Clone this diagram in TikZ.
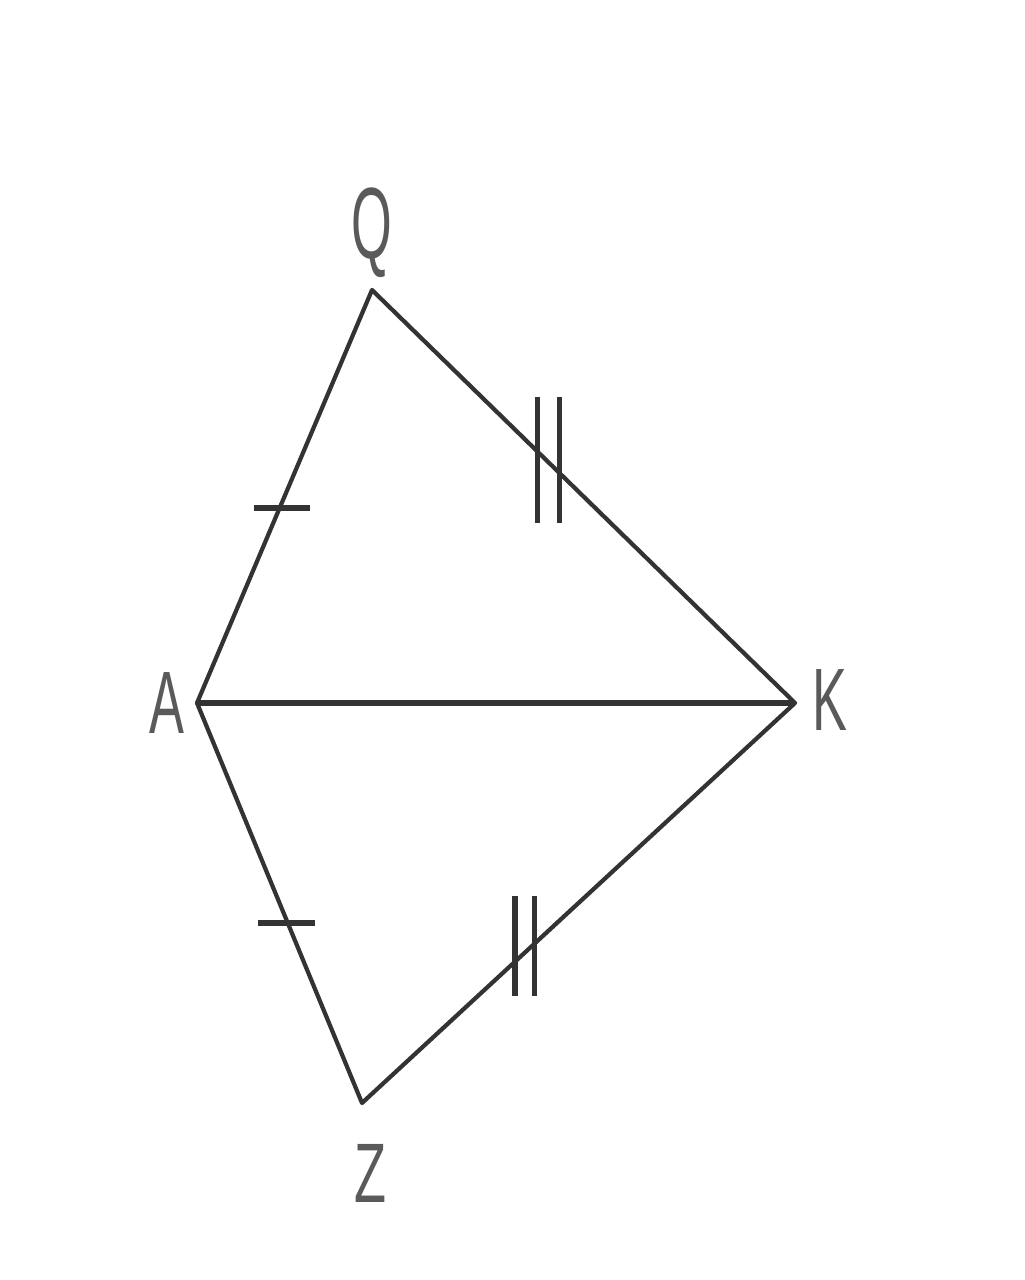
\documentclass[tikz,border=0pt]{standalone}
\usepackage{fontspec}
\setmainfont{Liberation Sans}
\usepackage{xcolor}
\usetikzlibrary{calc}
\definecolor{EdgeGray}{HTML}{333333}
\definecolor{LabelGray}{HTML}{5A5A5A}

\begin{document}
\begin{tikzpicture}[
    x=0.01cm, y=-0.01cm,
    side/.style={draw=EdgeGray, line width=1.2pt, line join=round},
    diag/.style={draw=EdgeGray, line width=1.8pt},
    tick/.style={draw=EdgeGray, line width=1.5pt},
    vlbl/.style={font=\fontsize{24}{24}\selectfont, text=LabelGray, inner sep=0pt}
  ]
    \useasboundingbox (0,0) rectangle (1024,1280);

    % Vertices
    \coordinate (Q) at (372,290);
    \coordinate (A) at (197,703);
    \coordinate (K) at (795,703);
    \coordinate (Z) at (362,1103);

    % Labels
    \node[vlbl] (lQ) at (372,233) {\scalebox{0.62}[1.2]{Q}};
    \node[vlbl] (lA) at (167,703) {\scalebox{0.62}[1.05]{A}};
    \node[vlbl] (lK) at (830,700) {\scalebox{0.62}[1.05]{K}};
    \node[vlbl] (lZ) at (370,1173) {\scalebox{0.62}[1.0]{Z}};

    % Sides
    \draw[side] (A) -- (Q) -- (K) -- (Z) -- cycle;
    \draw[diag] (A) -- (K);

    % Tick marks
    \coordinate (tAQ) at ($(A)!0.472!(Q)$);
    \coordinate (tAZ) at ($(A)!0.55!(Z)$);
    \draw[tick] ($(tAQ)+(-26,0)$) -- ($(tAQ)+(30,0)$);
    \draw[tick] ($(tAZ)+(-30,0)$) -- ($(tAZ)+(27,0)$);

    \coordinate (tQK) at ($(Q)!0.418!(K)$);
    \coordinate (tZK) at ($(Z)!0.376!(K)$);
    \foreach \dx in {-11,11} {
      \draw[tick] ($(tQK)+(\dx,-66)$) -- ($(tQK)+(\dx,60)$);
      \draw[tick] ($(tZK)+(0.9*\dx,-57)$) -- ($(tZK)+(0.9*\dx,43)$);
    }
  \end{tikzpicture}
\end{document}
